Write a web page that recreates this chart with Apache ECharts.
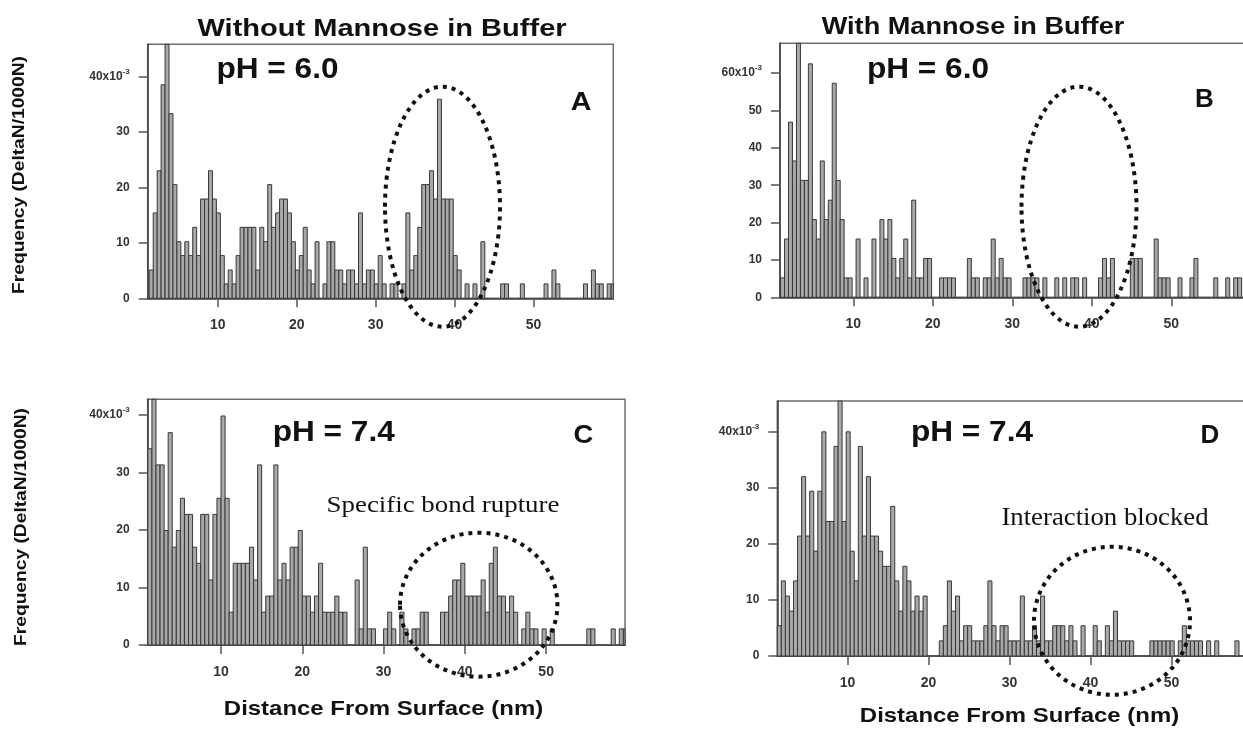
<!DOCTYPE html>
<html>
<head>
<meta charset="utf-8">
<script src="https://cdn.jsdelivr.net/npm/echarts@6/dist/echarts.min.js"></script>
<style>
  html, body { margin: 0; padding: 0; background: #fff; }
  #chart { width: 1243px; height: 729px; }
</style>
</head>
<body>
<div id="chart"></div>
<script>
// histogram heights in units of 1e-3, one value per 0.5 nm bin
var binWidth = 0.5
var startA = 1.33
var startB = 0.85
var startC = 1.0
var startD = 1.34

var heightsA = [
  5.1, 15.4, 23, 38.5, 48, 33.3, 20.5, 10.2, 7.7, 10.2,
  7.7, 12.8, 7.7, 17.9, 17.9, 23, 17.9, 15.4, 7.7, 2.6,
  5.1, 2.6, 7.7, 12.8, 12.8, 12.8, 12.8, 5.1, 12.8, 10.2,
  20.5, 12.8, 15.4, 17.9, 17.9, 15.4, 10.2, 5.1, 7.7, 12.8,
  5.1, 2.6, 10.2, 0, 2.6, 10.2, 10.2, 5.1, 5.1, 2.6,
  5.1, 5.1, 2.6, 15.4, 2.6, 5.1, 5.1, 2.6, 7.7, 2.6,
  0, 2.6, 2.6, 0, 2.6, 15.4, 5.1, 7.7, 12.8, 20.5,
  20.5, 23, 17.9, 35.9, 17.9, 17.9, 17.9, 7.7, 5.1, 0,
  2.6, 0, 2.6, 0, 10.2, 0, 0, 0, 0, 2.6,
  2.6, 0, 0, 0, 2.6, 0, 0, 0, 0, 0,
  2.6, 0, 5.1, 2.6, 0, 0, 0, 0, 0, 0,
  2.6, 0, 5.1, 2.6, 2.6, 0, 2.6, 2.6
]

var heightsB = [
  5.2, 15.6, 46.9, 36.5, 70, 31.3, 31.3, 62.5, 20.8, 15.6,
  36.5, 20.8, 26, 57.3, 31.3, 20.8, 5.2, 5.2, 0, 15.6,
  0, 5.2, 0, 15.6, 0, 20.8, 15.6, 20.8, 10.4, 5.2,
  10.4, 15.6, 5.2, 26, 5.2, 5.2, 10.4, 10.4, 0, 0,
  5.2, 5.2, 5.2, 5.2, 0, 0, 0, 10.4, 5.2, 5.2,
  0, 5.2, 5.2, 15.6, 5.2, 10.4, 5.2, 5.2, 0, 0,
  0, 5.2, 5.2, 5.2, 5.2, 0, 5.2, 0, 0, 5.2,
  0, 5.2, 0, 5.2, 5.2, 0, 5.2, 0, 0, 0,
  5.2, 10.4, 5.2, 10.4, 0, 0, 0, 0, 10.4, 10.4,
  10.4, 0, 0, 0, 15.6, 5.2, 5.2, 5.2, 0, 0,
  5.2, 0, 0, 5.2, 10.4, 0, 0, 0, 0, 5.2,
  0, 0, 5.2, 0, 5.2, 5.2
]

var heightsC = [
  34.1, 45, 31.3, 31.3, 19.9, 36.9, 17, 19.9, 25.5, 22.7,
  22.7, 17, 14.2, 22.7, 22.7, 11.3, 22.7, 25.5, 39.8, 25.5,
  5.7, 14.2, 14.2, 14.2, 14.2, 17, 11.3, 31.3, 5.7, 8.5,
  8.5, 31.3, 11.3, 14.2, 11.3, 17, 17, 19.9, 8.5, 8.5,
  5.7, 8.5, 14.2, 5.7, 5.7, 5.7, 8.5, 5.7, 5.7, 0,
  0, 11.3, 2.8, 17, 2.8, 2.8, 0, 0, 2.8, 5.7,
  2.8, 0, 5.7, 2.8, 0, 2.8, 2.8, 5.7, 5.7, 0,
  0, 0, 5.7, 5.7, 8.5, 11.3, 11.3, 14.2, 8.5, 8.5,
  8.5, 8.5, 11.3, 5.7, 14.2, 17, 8.5, 8.5, 5.7, 8.5,
  5.7, 0, 2.8, 5.7, 2.8, 2.8, 0, 2.8, 0, 2.8,
  0, 0, 0, 0, 0, 0, 0, 0, 2.8, 2.8,
  0, 0, 0, 0, 2.8, 0, 2.8, 2.8
]

var heightsD = [
  5.4, 13.4, 10.7, 8, 13.4, 21.4, 32, 21.4, 29.4, 18.7,
  29.4, 40, 24, 24, 37.4, 48, 24, 40, 18.7, 13.4,
  37.4, 21.4, 32, 21.4, 21.4, 18.7, 16, 16, 26.7, 13.4,
  8, 16, 13.4, 8, 10.7, 8, 10.7, 0, 0, 0,
  2.7, 5.4, 13.4, 8, 10.7, 2.7, 5.4, 5.4, 2.7, 2.7,
  2.7, 5.4, 13.4, 5.4, 2.7, 5.4, 5.4, 2.7, 2.7, 2.7,
  10.7, 2.7, 2.7, 5.4, 2.7, 10.7, 2.7, 2.7, 5.4, 5.4,
  5.4, 2.7, 5.4, 2.7, 0, 5.4, 0, 0, 5.4, 2.7,
  0, 5.4, 2.7, 8, 2.7, 2.7, 2.7, 2.7, 0, 0,
  0, 0, 2.7, 2.7, 2.7, 2.7, 2.7, 2.7, 0, 2.7,
  5.4, 2.7, 2.7, 2.7, 2.7, 0, 2.7, 0, 2.7, 0,
  0, 0, 0, 2.7
]

var xTicks = [10, 20, 30, 40, 50]
var yTicks = [0, 10, 20, 30, 40]
var yTicksB = [0, 10, 20, 30, 40, 50, 60]

function bins (start, heights) {
  return heights.map(function (h, i) {
    return [start + i * binWidth, h]
  })
}

var chart = echarts.init(document.getElementById('chart'))

// B and D run off the right edge of the picture, like the original
var panels = [
  { left: 147.7, top: 44.3, width: 465.6, height: 254, xMin: 1.13, xMax: 60.1, yMax: 45.8, ticks: yTicks, data: bins(startA, heightsA) },
  { left: 780, top: 43.3, width: 480, height: 254, xMin: 0.78, xMax: 61.16, yMax: 68, ticks: yTicksB, data: bins(startB, heightsB) },
  { left: 147.7, top: 399.3, width: 477.3, height: 245.7, xMin: 0.98, xMax: 59.7, yMax: 42.7, ticks: yTicks, data: bins(startC, heightsC) },
  { left: 777.3, top: 401, width: 480, height: 255, xMin: 1.34, xMax: 60.6, yMax: 45.5, ticks: yTicks, data: bins(startD, heightsD) }
]

function drawBin (params, api) {
  var x0 = api.value(0)
  var h = api.value(1)
  if (!h) return null
  var a = api.coord([x0, 0])
  var b = api.coord([x0 + binWidth, h])
  var cs = params.coordSys
  var rect = echarts.graphic.clipRectByRect(
    { x: a[0], y: b[1], width: b[0] - a[0], height: a[1] - b[1] },
    { x: cs.x, y: cs.y, width: cs.width, height: cs.height }
  )
  if (!rect) return null
  return {
    type: 'rect',
    shape: rect,
    style: { fill: '#a9a9a9', stroke: '#383838', lineWidth: 1 }
  }
}

var font = 'Liberation Sans, Arial, sans-serif'

function text (str, x, y, size, sx, opts) {
  opts = opts || {}
  return {
    type: 'text',
    x: x,
    y: y,
    scaleX: sx,
    rotation: opts.rotation || 0,
    z: 100,
    style: {
      text: str,
      x: 0,
      y: 0,
      align: 'center',
      verticalAlign: 'middle',
      font: (opts.serif ? '' : 'bold ') + size + 'px ' + (opts.serif ? 'Liberation Serif, Times New Roman, serif' : font),
      fill: opts.color || '#111'
    }
  }
}

function ring (cx, cy, rx, ry) {
  return {
    type: 'ellipse',
    z: 101,
    shape: { cx: cx, cy: cy, rx: rx, ry: ry },
    style: { fill: 'none', stroke: '#111', lineWidth: 4, lineDash: [4, 5] }
  }
}

var option = {
  animation: false,
  backgroundColor: '#fff',
  grid: panels.map(function (p) {
    return {
      left: p.left, top: p.top, width: p.width, height: p.height,
      outerBoundsMode: 'none',
      containLabel: false,
      show: true, borderColor: '#6e6e6e', borderWidth: 1.5
    }
  }),
  xAxis: panels.map(function (p, i) {
    return {
      type: 'value',
      gridIndex: i,
      min: p.xMin,
      max: p.xMax,
      splitLine: { show: false },
      axisLine: { show: true, lineStyle: { color: '#3c3c3c', width: 1.5 } },
      axisTick: { show: true, customValues: xTicks, length: 9, lineStyle: { color: '#555', width: 1.5 } },
      axisLabel: {
        customValues: xTicks, margin: 20, fontSize: 14, fontWeight: 'bold',
        color: '#333', fontFamily: font
      }
    }
  }),
  yAxis: panels.map(function (p, i) {
    var topTick = p.ticks[p.ticks.length - 1]
    return {
      type: 'value',
      gridIndex: i,
      min: 0,
      max: p.yMax,
      splitLine: { show: false },
      axisLine: { show: true, lineStyle: { color: '#3c3c3c', width: 1.5 } },
      axisTick: { show: true, customValues: p.ticks, length: 9, lineStyle: { color: '#555', width: 1.5 } },
      axisLabel: {
        customValues: p.ticks,
        margin: 18,
        fontSize: 12,
        fontWeight: 'bold',
        color: '#333',
        fontFamily: font,
        formatter: function (v) {
          return v === topTick ? '{a|' + v + 'x10}{s|-3}' : String(v)
        },
        rich: {
          a: { fontSize: 12, fontWeight: 'bold', color: '#333', fontFamily: font, lineHeight: 18 },
          s: { fontSize: 8, fontWeight: 'bold', color: '#333', fontFamily: font, lineHeight: 10, verticalAlign: 'top' }
        }
      }
    }
  }),
  series: panels.map(function (p, i) {
    return {
      type: 'custom',
      xAxisIndex: i,
      yAxisIndex: i,
      silent: true,
      renderItem: drawBin,
      encode: { x: 0, y: 1 },
      data: p.data
    }
  }),
  graphic: [
    text('Without Mannose in Buffer', 382, 29, 24, 1.21),
    text('With Mannose in Buffer', 973, 27, 24, 1.13),
    text('pH = 6.0', 277.5, 70, 29, 1.09),
    text('pH = 6.0', 928, 70, 29, 1.09),
    text('pH = 7.4', 333.7, 432.5, 29, 1.09),
    text('pH = 7.4', 972, 432.5, 29, 1.09),
    text('A', 581, 102.5, 26, 1.1),
    text('B', 1204.5, 100, 26, 1.0),
    text('C', 583.3, 436, 26, 1.05),
    text('D', 1210, 436, 26, 1.0),
    text('Specific bond rupture', 443, 506, 24, 1.12, { serif: true }),
    text('Interaction blocked', 1105, 518, 25, 1.07, { serif: true }),
    text('Distance From Surface (nm)', 383.5, 709, 21, 1.14),
    text('Distance From Surface (nm)', 1019.5, 716, 21, 1.14),
    text('Frequency (DeltaN/1000N)', 20, 175, 16, 1.2, { rotation: Math.PI / 2 }),
    text('Frequency (DeltaN/1000N)', 22, 527, 16, 1.2, { rotation: Math.PI / 2 }),
    ring(442.5, 206.7, 57.5, 120),
    ring(1079, 206.7, 57.5, 120),
    ring(478.7, 604.7, 78.7, 72),
    ring(1112, 620.8, 78, 74)
  ]
}

chart.setOption(option)
</script>
</body>
</html>
